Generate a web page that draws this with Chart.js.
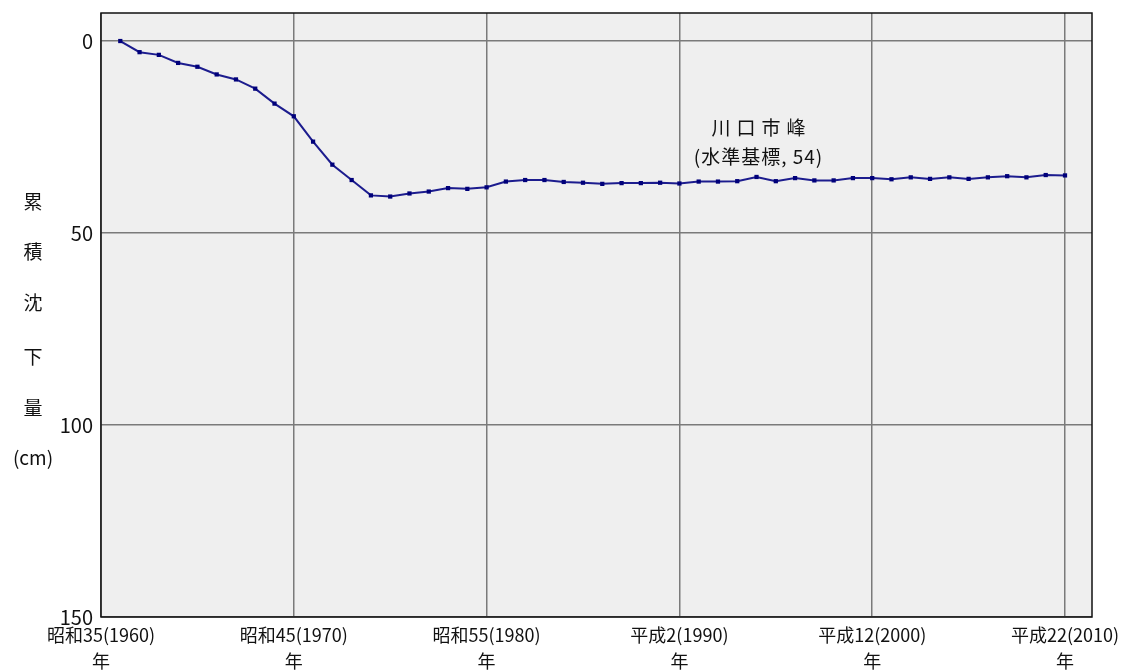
<!DOCTYPE html>
<html><head><meta charset="utf-8">
<script src="https://cdn.jsdelivr.net/npm/chart.js@4/dist/chart.umd.min.js"></script>
<style>html,body{margin:0;padding:0;background:#fff;}#wrap{width:1122px;height:670px;}</style>
</head><body><div id="wrap"><canvas id="c" width="1122" height="670"></canvas></div>
<script>
const years = [1961,1962,1963,1964,1965,1966,1967,1968,1969,1970,
  1971,1972,1973,1974,1975,1976,1977,1978,1979,1980,
  1981,1982,1983,1984,1985,1986,1987,1988,1989,1990,
  1991,1992,1993,1994,1995,1996,1997,1998,1999,2000,
  2001,2002,2003,2004,2005,2006,2007,2008,2009,2010];
const subsidence = [0,2.9,3.6,5.7,6.7,8.7,10.0,12.4,16.3,19.6,
  26.2,32.2,36.2,40.2,40.5,39.7,39.2,38.3,38.5,38.1,
  36.6,36.2,36.2,36.7,36.9,37.2,37.0,37.0,36.9,37.1,
  36.6,36.6,36.5,35.4,36.5,35.7,36.3,36.3,35.7,35.7,
  36.0,35.5,35.9,35.5,35.9,35.5,35.2,35.5,34.9,35.0];
const xTickValues = [1960,1970,1980,1990,2000,2010];
const xTickLabels = [["昭和35(1960)","年"],["昭和45(1970)","年"],["昭和55(1980)","年"],["平成2(1990)","年"],["平成12(2000)","年"],["平成22(2010)","年"]];
const yTickValues = [0,50,100,150];
const yTitleChars = ["累","積","沈","下","量","(cm)"];
const seriesLabel = ["川口市峰","(水準基標, 54)"];

const FONT = "'Noto Sans CJK JP','Noto Sans',sans-serif";

const bgPlugin = {
  id:'bg',
  beforeDraw(chart){
    const {ctx, chartArea:a} = chart;
    ctx.save(); ctx.fillStyle='#efefef';
    ctx.fillRect(a.left,a.top,a.right-a.left,a.bottom-a.top); ctx.restore();
  },
  afterDraw(chart){
    const {ctx, chartArea:a, scales} = chart;
    ctx.save();
    ctx.strokeStyle='#111'; ctx.lineWidth=1.5;
    ctx.strokeRect(a.left,a.top,a.right-a.left,a.bottom-a.top);
    ctx.fillStyle='#111'; ctx.textAlign='center'; ctx.textBaseline='middle';
    ctx.font = "19px " + FONT;
    const ys=[202,252,303,357,408,458];
    yTitleChars.forEach((t,i)=>ctx.fillText(t,33,ys[i]));
    const x = scales.x.getPixelForValue(1994.1);
    ctx.font = "19px " + FONT;
    ctx.letterSpacing = '6px';
    ctx.fillText(seriesLabel[0], x+3, scales.y.getPixelForValue(22.6));
    ctx.letterSpacing = '1px';
    ctx.fillText(seriesLabel[1], x, scales.y.getPixelForValue(30.2));
    ctx.restore();
  }
};

new Chart(document.getElementById('c'), {
  type:'line',
  data:{datasets:[{
    data: years.map((y,i)=>({x:y,y:subsidence[i]})),
    borderColor:'#1c1c8e', borderWidth:2,
    pointStyle:'rect', pointRadius:3, pointBackgroundColor:'#00007a', pointBorderColor:'#00007a', pointBorderWidth:0,
    tension:0, fill:false
  }]},
  options:{
    responsive:false, animation:false, devicePixelRatio:1,
    layout:{padding:{top:13,right:30,left:0,bottom:0}},
    plugins:{legend:{display:false}, tooltip:{enabled:false}},
    scales:{
      x:{type:'linear', min:1960, max:2011.4,
        afterBuildTicks(s){ s.ticks = xTickValues.map(v=>({value:v})); },
        afterFit(s){ s.height = 53; s.paddingLeft = 0; s.paddingRight = 0; },
        ticks:{autoSkip:false, maxRotation:0, padding:6, color:'#111',
          font:{family:FONT,size:18,lineHeight:1.4},
          callback(v){ const i=xTickValues.indexOf(v); return i>=0?xTickLabels[i]:''; }},
        grid:{color:'#7a7a7a', lineWidth:1.5, drawTicks:false},
        border:{display:false}
      },
      y:{type:'linear', reverse:true, min:-7.3, max:150,
        afterBuildTicks(s){ s.ticks = yTickValues.map(v=>({value:v})); },
        afterFit(s){ s.width = 101; s.paddingTop = 0; s.paddingBottom = 0; },
        ticks:{padding:8, color:'#111', font:{family:FONT,size:20}},
        grid:{color:'#7a7a7a', lineWidth:1.5, drawTicks:false},
        border:{display:false}
      }
    }
  },
  plugins:[bgPlugin]
});
</script></body></html>
